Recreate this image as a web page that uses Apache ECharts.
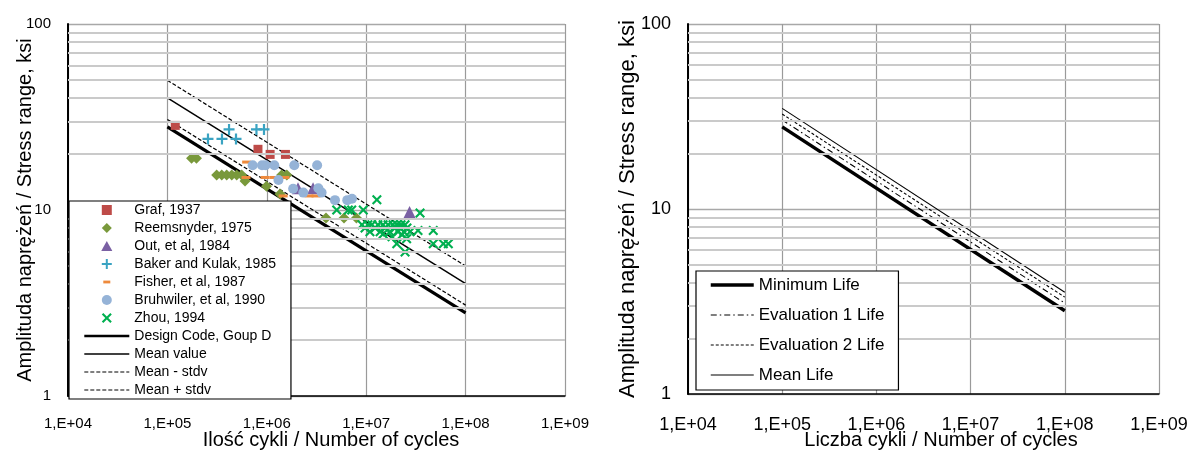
<!DOCTYPE html>
<html>
<head>
<meta charset="utf-8">
<script src="https://cdn.jsdelivr.net/npm/echarts@6/dist/echarts.min.js"></script>
<style>
html,body{margin:0;padding:0;background:#fff;}
#chart{width:1197px;height:455px;}
</style>
</head>
<body>
<div id="chart"></div>
<script>
// ---------- data ----------
const xTickLabels = ['1,E+04','1,E+05','1,E+06','1,E+07','1,E+08','1,E+09'];
const yTickLabels = ['1','10','100'];
const minorGridValues = [2,3,4,5,6,7,8,9,20,30,40,50,60,70,80,90];

const grafData = [[1.2e5,28.5],[8.15e5,21.2],[1.08e6,19.9],[1.54e6,19.9]];
const reemsnyderData = [[1.75e5,19.0],[1.96e5,19.0],[3.13e5,15.4],[3.52e5,15.4],[3.95e5,15.4],[4.44e5,15.4],[4.98e5,15.4],[5.59e5,15.4],[6.04e5,14.3],[9.93e5,13.4],[1.36e6,12.2],[1.41e6,15.4],[1.59e6,15.4],[3.94e6,9.06],[5.98e6,9.06],[7.98e6,9.06]];
const outData = [[2.06e6,13.1],[2.92e6,13.1],[2.73e7,9.76]];
const bakerData = [[2.56e5,24.1],[3.54e5,24.1],[4.90e5,24.1],[4.17e5,27.1],[7.87e5,27.1],[9.37e5,27.1]];
const fisherData = [[6.27e5,18.1],[6.18e5,14.96],[9.6e5,14.96],[1.18e6,14.96],[1.52e6,14.96],[1.46e6,11.9],[2.66e6,11.9],[3.13e6,11.9]];
const bruhwilerData = [[7.21e5,17.4],[8.95e5,17.4],[9.71e5,17.4],[1.19e6,17.4],[1.89e6,17.4],[3.21e6,17.4],[1.31e6,14.5],[1.84e6,13.0],[2.33e6,12.4],[3.30e6,13.1],[3.56e6,12.4],[4.85e6,11.3],[6.45e6,11.3],[7.19e6,11.5]];
const zhouData = [[1.28e7,11.35],[5.05e6,10.0],[6.61e6,10.0],[7.15e6,10.0],[9.35e6,10.0],[3.48e7,9.64],
  [9.08e6,8.32],[1.04e7,8.32],[1.14e7,8.32],[1.31e7,8.32],[1.48e7,8.32],[1.66e7,8.32],[1.86e7,8.32],[2.04e7,8.32],[2.24e7,8.32],[2.46e7,8.32],
  [9.73e6,8.01],[1.23e7,8.01],[1.55e7,8.01],[1.95e7,8.01],[2.19e7,8.01],[2.57e7,8.01],
  [1.09e7,7.63],[1.38e7,7.63],[1.73e7,7.63],[2.09e7,7.63],[2.40e7,7.63],[2.76e7,7.63],
  [3.32e7,7.75],[4.73e7,7.75],[4.73e7,6.58],[5.97e7,6.58],[6.70e7,6.58],[2.46e7,5.94],[2.03e7,6.58],[2.55e7,7.0],[1.48e7,7.44],[1.82e7,7.17],[2.29e7,7.35]];

const designCodeD = [[1e5,28.0],[1e8,2.80]];
const meanValue = [[1e5,40.1],[1e8,4.02]];
const meanMinusStdv = [[1e5,30.7],[1e8,3.08]];
const meanPlusStdv = [[1e5,49.8],[1e8,5.0]];

const minimumLife = [[1e5,27.8],[1e8,2.82]];
const evaluation1Life = [[1e5,30.3],[1e8,3.10]];
const evaluation2Life = [[1e5,32.6],[1e8,3.34]];
const meanLife = [[1e5,35.0],[1e8,3.55]];

// ---------- styles ----------
const FONT = "'Liberation Sans',Arial,sans-serif";
const P_SQUARE = 'path://M0,0H10V10H0Z';
const P_DIAMOND = 'path://M5,0L10,5L5,10L0,5Z';
const P_TRI = 'path://M5,0L10,9L0,9Z';
const P_PLUS = 'path://M4,0H6V4H10V6H6V10H4V6H0V4H4Z';
const P_X = 'path://M1.5,0L5,3.5L8.5,0L10,1.5L6.5,5L10,8.5L8.5,10L5,6.5L1.5,10L0,8.5L3.5,5L0,1.5Z';
const P_DASH_LEG = 'path://M0,0M10,10M1.5,3.6H8.5V6.4H1.5Z';
const NO_SYM = {color:'rgba(0,0,0,0)', borderWidth:0, borderColor:'rgba(0,0,0,0)'};

function xLab(v){ const e = Math.round(Math.log10(v)); return xTickLabels[e-4] || ''; }
function yLab(v){ const e = Math.round(Math.log10(v)); return yTickLabels[e] || ''; }

function xAxisCfg(idx, labelSize, margin, name, nameSize, namePad, nameGap){
  return {
    type:'log', logBase:10, gridIndex:idx, min:1e4, max:1e9,
    axisLine:{show:true, onZero:false, lineStyle:{color:'#000', width:1.5}},
    axisTick:{show:false},
    axisLabel:{formatter:xLab, fontFamily:FONT, fontSize:labelSize, color:'#000', margin:margin},
    splitLine:{show:true, lineStyle:{color:'#9a9a9a', width:1.2}},
    name:name, nameLocation:'middle', nameGap:nameGap, nameMoveOverlap:false,
    nameTextStyle:{fontFamily:FONT, fontSize:nameSize, color:'#000', padding:namePad}
  };
}
function yAxisCfg(idx, labelSize, nameSize, nameGap){
  return {
    type:'log', logBase:10, gridIndex:idx, min:1, max:100,
    axisLine:{show:true, onZero:false, lineStyle:{color:'#000', width:2}},
    axisTick:{show:false},
    axisLabel:{formatter:yLab, fontFamily:FONT, fontSize:labelSize, color:'#000', margin:17},
    splitLine:{show:true, lineStyle:{color:'#a8a8a8', width:1.3}},
    name:'Amplituda naprężeń / Stress range, ksi', nameLocation:'middle', nameGap:nameGap, nameMoveOverlap:false,
    nameTextStyle:{fontFamily:FONT, fontSize:nameSize, color:'#000'}
  };
}
function minorGridSeries(idx){
  return {
    type:'line', xAxisIndex:idx, yAxisIndex:idx, data:[], silent:true, z:1, symbol:'none',
    markLine:{silent:true, symbol:['none','none'], label:{show:false}, animation:false,
      lineStyle:{color:'#cacaca', width:1.8, type:'solid'},
      emphasis:{disabled:true},
      data:minorGridValues.map(v=>({yAxis:v}))}
  };
}
function scatter(name, data, symbol, size, color){
  return {type:'scatter', name, data, xAxisIndex:0, yAxisIndex:0, symbol, symbolSize:size,
    itemStyle:{color, opacity:1}, z:3};
}
function line(name, data, idx, width, type){
  return {type:'line', name, data, xAxisIndex:idx, yAxisIndex:idx, symbol:'none', z:2,
    lineStyle:{color:'#000', width, type}, itemStyle:{color:'#000'}};
}
function legLine(name, width, type){
  return {name, itemStyle:NO_SYM, lineStyle:{color:'#000', width, type}};
}

const option = {
  animation:false,
  backgroundColor:'#fff',
  grid:[
    {left:68, top:24, width:497, height:374},
    {left:688, top:24, width:471, height:374}
  ],
  xAxis:[
    xAxisCfg(0, 15, 20, 'Ilość cykli / Number of cycles', 20, [0,0,0,29], 34),
    xAxisCfg(1, 18, 22, 'Liczba cykli / Number of cycles', 20, [0,0,0,35], 36)
  ],
  yAxis:[
    yAxisCfg(0, 15, 20, 33),
    yAxisCfg(1, 18, 22, 49)
  ],
  legend:[
    {
      z:50, zlevel:0,
      orient:'vertical', left:69, top:201, padding:[0,15,0,14], itemGap:0,
      itemWidth:45, itemHeight:10, selectedMode:false,
      backgroundColor:'#fff', borderColor:'#000', borderWidth:1.2, borderRadius:0,
      textStyle:{fontFamily:FONT, fontSize:14, lineHeight:18, color:'#000'},
      data:[
        {name:'Graf, 1937', icon:P_SQUARE},
        {name:'Reemsnyder, 1975', icon:P_DIAMOND},
        {name:'Out, et al, 1984', icon:P_TRI},
        {name:'Baker and Kulak, 1985', icon:P_PLUS},
        {name:'Fisher, et al, 1987', icon:P_DASH_LEG},
        {name:'Bruhwiler, et al, 1990', icon:'circle'},
        {name:'Zhou, 1994', icon:P_X},
        legLine('Design Code, Goup D', 2.6, 'solid'),
        legLine('Mean value', 1.4, 'solid'),
        legLine('Mean - stdv', 1.2, [4,2]),
        legLine('Mean + stdv', 1.2, [4,2])
      ]
    },
    {
      z:50, zlevel:0,
      orient:'vertical', left:696, top:271, padding:[5,14,6,13], itemGap:12,
      itemWidth:43, itemHeight:10, selectedMode:false,
      backgroundColor:'#fff', borderColor:'#000', borderWidth:1.2, borderRadius:0,
      textStyle:{fontFamily:FONT, fontSize:17, lineHeight:18, color:'#000'},
      data:[
        legLine('Minimum Life', 3.5, 'solid'),
        legLine('Evaluation 1 Life', 1.1, [6,3,1.5,3]),
        legLine('Evaluation 2 Life', 1.1, [3,2]),
        legLine('Mean Life', 1.1, 'solid')
      ]
    }
  ],
  series:[
    minorGridSeries(0),
    minorGridSeries(1),
    line('Design Code, Goup D', designCodeD, 0, 3.2, 'solid'),
    line('Mean value', meanValue, 0, 1.5, 'solid'),
    line('Mean - stdv', meanMinusStdv, 0, 1.2, [4,2]),
    line('Mean + stdv', meanPlusStdv, 0, 1.2, [4,2]),
    scatter('Graf, 1937', grafData, 'rect', 9, '#BE4B48'),
    scatter('Reemsnyder, 1975', reemsnyderData, 'diamond', 11, '#79993B'),
    scatter('Out, et al, 1984', outData, 'triangle', 12, '#7A60A3'),
    scatter('Baker and Kulak, 1985', bakerData, P_PLUS, 11, '#3AA3C2'),
    scatter('Fisher, et al, 1987', fisherData, 'rect', [9,3], '#EE8A3C'),
    scatter('Bruhwiler, et al, 1990', bruhwilerData, 'circle', 10, '#95B3D7'),
    scatter('Zhou, 1994', zhouData, P_X, 10, '#00B050'),
    line('Minimum Life', minimumLife, 1, 3.5, 'solid'),
    line('Evaluation 1 Life', evaluation1Life, 1, 1.1, [6,3,1.5,3]),
    line('Evaluation 2 Life', evaluation2Life, 1, 1.1, [3,2]),
    line('Mean Life', meanLife, 1, 1.1, 'solid')
  ]
};
const chart = echarts.init(document.getElementById('chart'), null, {renderer:'canvas'});
chart.setOption(option);
</script>
</body>
</html>
